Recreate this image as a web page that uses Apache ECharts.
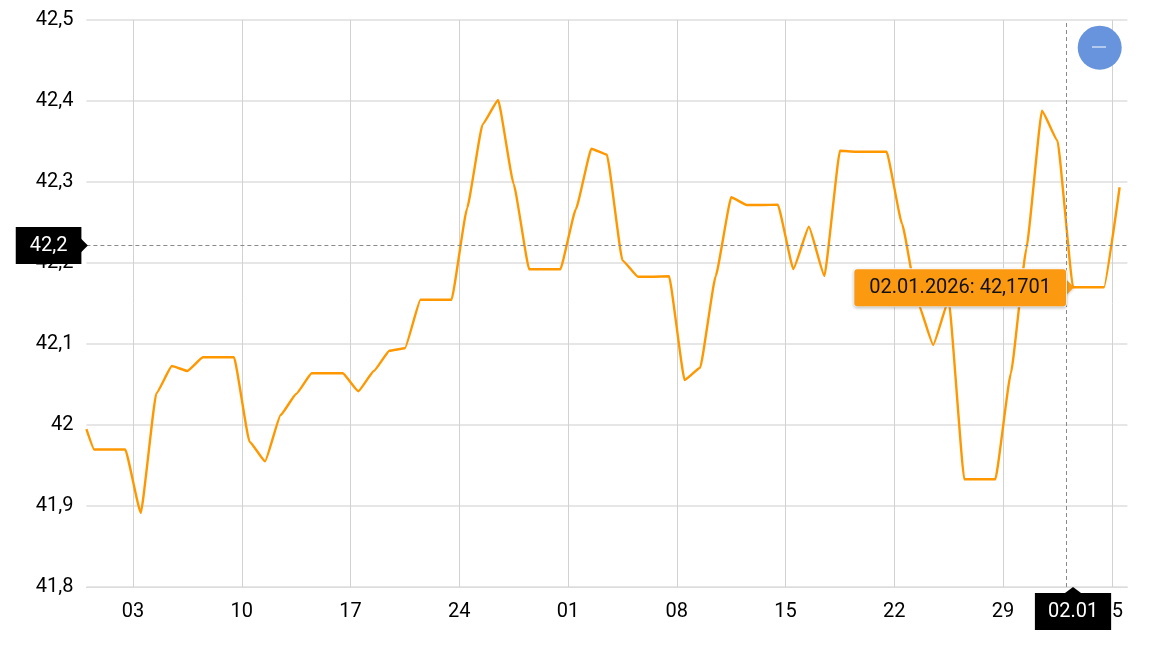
<!DOCTYPE html>
<html>
<head>
<meta charset="utf-8">
<style>html,body{margin:0;padding:0;background:#fff}#c{width:1156px;height:648px}</style>
<script src="https://cdn.jsdelivr.net/npm/echarts@6/dist/echarts.min.js"></script>
</head>
<body>
<div id="c"></div>
<script>
// Visible start of the line (31.10.2025, left edge of the plot)
const startValue = 41.995;
// Daily values from 31.10.2025 to 05.01.2026, sampled at midday.
const values = [41.9698,41.9698,41.9698,41.8914,42.0391,42.0728,42.0667,42.0836,42.0836,42.0836,
 41.9794,41.9552,42.0123,42.0383,42.0638,42.0638,42.0638,42.0416,42.0667,42.0917,42.0947,
 42.1547,42.1547,42.1547,42.2675,42.3712,42.4012,42.2975,42.1922,42.1922,42.1922,42.2663,
 42.3411,42.3337,42.2033,42.1831,42.1831,42.1836,42.0556,42.0707,42.1836,42.2811,42.2716,
 42.2716,42.272,42.1926,42.2448,42.1840,42.3386,42.3374,42.3374,42.3374,42.2481,42.1519,
 42.0988,42.1543,41.9330,41.9330,41.9330,42.0638,42.2181,42.3880,42.3510,42.1701,42.1701,
 42.1701,42.2935];
const tickDays = [3,10,17,24,31,38,45,52,59,66];
const tickLabels = ['03','10','17','24','01','08','15','22','29','05'];
const crossDay = 63.07;
const crossValue = 42.2216;
const crossDateLabel = '02.01';
const crossValueLabel = '42,2';
const tipDay = 63.5;
const tipValue = 42.1701;
const tipText = '02.01.2026: 42,1701';

const xMin = 0, xMax = 67;
const seriesData = [[xMin,startValue]].concat(values.map((v,i)=>[i+0.5,v]));
const font = 'Roboto', fs = 20;
const chart = echarts.init(document.getElementById('c'),null,{renderer:'canvas'});
chart.setOption({
 animation:false,
 backgroundColor:'#fff',
 grid:{left:86.4,right:28.6,top:20,bottom:61,containLabel:false},
 xAxis:{type:'value',min:xMin,max:xMax,
  axisLine:{show:true,lineStyle:{color:'#dcdcdc',width:1}},
  axisTick:{show:false,customValues:tickDays},
  splitLine:{show:true,lineStyle:{color:'#d2d2d2',width:1}},
  axisLabel:{customValues:tickDays,color:'#000',fontFamily:font,fontSize:fs,margin:15,
    formatter:v=>tickLabels[tickDays.indexOf(v)]}},
 yAxis:{type:'value',min:41.8,max:42.5,interval:0.1,
  axisLine:{show:false},axisTick:{show:false},
  splitLine:{show:true,lineStyle:{color:'#dedede',width:1.5}},
  axisLabel:{color:'#000',fontFamily:font,fontSize:fs,margin:13,
    formatter:v=>String(+v.toFixed(1)).replace('.',',')}},
 series:[{type:'line',data:seriesData,showSymbol:false,smooth:0.12,smoothMonotone:'x',clip:true,
  lineStyle:{color:'#ff9800',width:2.4},
  markLine:{silent:true,symbol:'none',animation:false,label:{show:false},
   lineStyle:{color:'#8a8a8a',type:[4,3],width:1},
   data:[[{coord:[crossDay,41.8]},{coord:[crossDay,42.5]}],[{coord:[xMin,crossValue]},{coord:[xMax,crossValue]}]]},
  markPoint:{silent:true,animation:false,data:[
   // value-axis callout
   {coord:[xMin,crossValue],symbol:'triangle',symbolSize:[14,7],symbolRotate:-90,symbolOffset:[-2,0],
    itemStyle:{color:'#000'},label:{show:false}},
   {coord:[xMin,crossValue],symbol:'rect',symbolSize:0,
    label:{show:true,position:'left',distance:5,formatter:crossValueLabel,color:'#fff',backgroundColor:'#000',
     fontFamily:font,fontSize:fs,lineHeight:19,padding:[9,14,9,14]}},
   // date-axis callout
   {coord:[tipDay,41.8],symbol:'triangle',symbolSize:[16,6],symbolOffset:[0,3],itemStyle:{color:'#000'},label:{show:false}},
   {coord:[tipDay,41.8],symbol:'rect',symbolSize:0,
    label:{show:true,position:'bottom',distance:6,formatter:crossDateLabel,color:'#fff',backgroundColor:'#000',
     fontFamily:font,fontSize:fs,lineHeight:19,padding:[9,13,9,13]}},
   // value tooltip
   {coord:[tipDay,tipValue],symbol:'triangle',symbolSize:[20,10],symbolRotate:-90,symbolOffset:[-4,0],
    itemStyle:{color:'#fb9a10',shadowColor:'rgba(0,0,0,0.2)',shadowBlur:3,shadowOffsetY:1},label:{show:false}},
   {coord:[tipDay,tipValue],symbol:'rect',symbolSize:0,
    label:{show:true,position:'left',distance:7,offset:[0,0.5],formatter:tipText,color:'#111',backgroundColor:'#fb9a10',
     borderColor:'#fff',borderWidth:1,borderRadius:3,shadowColor:'rgba(0,0,0,0.2)',shadowBlur:3,shadowOffsetY:1,
     fontFamily:font,fontSize:fs,lineHeight:19,padding:[9,15,9,15]}}
  ]}
 }],
 graphic:[
  {type:'circle',z:100,shape:{cx:1099.7,cy:47.7,r:22},style:{fill:'#6794dc'}},
  {type:'line',z:101,shape:{x1:1092,y1:47,x2:1106,y2:47},style:{stroke:'#fff',lineWidth:1}}
 ]
});
</script>
</body>
</html>
